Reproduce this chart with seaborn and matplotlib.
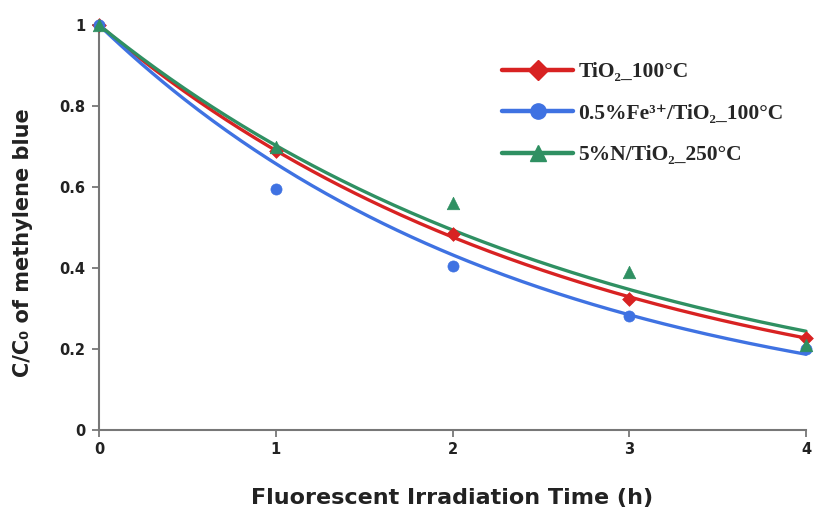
import numpy as np
import pandas as pd
import matplotlib
matplotlib.use("Agg")
import matplotlib.pyplot as plt
from matplotlib.lines import Line2D
import seaborn as sns

# ---- data ----
time_h = [0, 1, 2, 3, 4]
series_names = ["TiO₂_100°C", "0.5%Fe³⁺/TiO₂_100°C", "5%N/TiO₂_250°C"]
tio2_100 = [1.0, 0.69, 0.485, 0.323, 0.228]
fe_tio2_100 = [1.0, 0.595, 0.405, 0.281, 0.200]
n_tio2_250 = [1.0, 0.70, 0.56, 0.39, 0.21]
x_ticks = [0, 1, 2, 3, 4]
y_ticks = [0, 0.2, 0.4, 0.6, 0.8, 1.0]
y_tick_labels = ["0", "0.2", "0.4", "0.6", "0.8", "1"]

colors = ["#d82222", "#3f72e2", "#2f9062"]
markers = ["D", "o", "^"]
msizes = [7, 8, 9]

sns.set_theme(style="white")
plt.rcParams["font.family"] = ["DejaVu Sans"]

fig = plt.figure(figsize=(8.15, 5.11), dpi=100)
ax = fig.add_axes([99 / 815, 1 - 430 / 511, (806 - 99) / 815, (430 - 25) / 511])

all_series = [tio2_100, fe_tio2_100, n_tio2_250]
xs = np.array(time_h, dtype=float)
xd = np.linspace(0, 4, 200)
handles = []
for name, vals, c, m, ms in zip(series_names, all_series, colors, markers, msizes):
    v = np.array(vals)
    # exponential trend line through (0, 1), least squares on log values
    k = np.sum(xs * np.log(v)) / np.sum(xs ** 2)
    fit = pd.DataFrame({"x": xd, "y": np.exp(k * xd)})
    pts = pd.DataFrame({"x": xs, "y": v})
    sns.scatterplot(data=pts, x="x", y="y", ax=ax, color=c, marker=m,
                    s=ms ** 2, edgecolor=c, linewidth=0.5, clip_on=False, zorder=3)
    sns.lineplot(data=fit, x="x", y="y", ax=ax, color=c, linewidth=2.4,
                 zorder=2, clip_on=False)
    handles.append(Line2D([0], [0], color=c, lw=3.2, marker=m, markersize=ms + 3,
                          markerfacecolor=c, markeredgecolor=c))

ax.set_xlim(0, 4)
ax.set_ylim(0, 1)
ax.set_xticks(x_ticks)
ax.set_xticklabels([str(t) for t in x_ticks])
ax.set_yticks(y_ticks)
ax.set_yticklabels(y_tick_labels)
for lab in ax.get_xticklabels() + ax.get_yticklabels():
    lab.set_fontweight("bold")
    lab.set_fontsize(10.5)
    lab.set_color("#222222")

for side in ["top", "right"]:
    ax.spines[side].set_visible(False)
for side in ["left", "bottom"]:
    ax.spines[side].set_color("#777777")
    ax.spines[side].set_linewidth(1.5)
ax.tick_params(axis="both", which="major", direction="out", length=5, width=1.3,
               color="#777777", left=True, bottom=True)
ax.tick_params(axis="x", pad=4)
ax.tick_params(axis="y", pad=5)

ax.set_xlabel("Fluorescent Irradiation Time (h)", fontsize=16, fontweight="bold",
              color="#222222", labelpad=22)
ax.set_ylabel("C/C₀ of methylene blue", fontsize=15, fontweight="bold",
              color="#222222")
ax.yaxis.set_label_coords((33 - 99) / 707, 0.462)

leg = ax.legend(handles, series_names, loc="upper left",
                bbox_to_anchor=(502 / 815, 1 - 62 / 511), bbox_transform=fig.transFigure,
                frameon=False, handlelength=3.3, handletextpad=0.25, labelspacing=1.0,
                borderpad=0, borderaxespad=0,
                prop={"family": ["Liberation Serif", "DejaVu Serif"], "weight": "bold",
                      "size": 15.5})

fig.savefig("out.png", dpi=100)
